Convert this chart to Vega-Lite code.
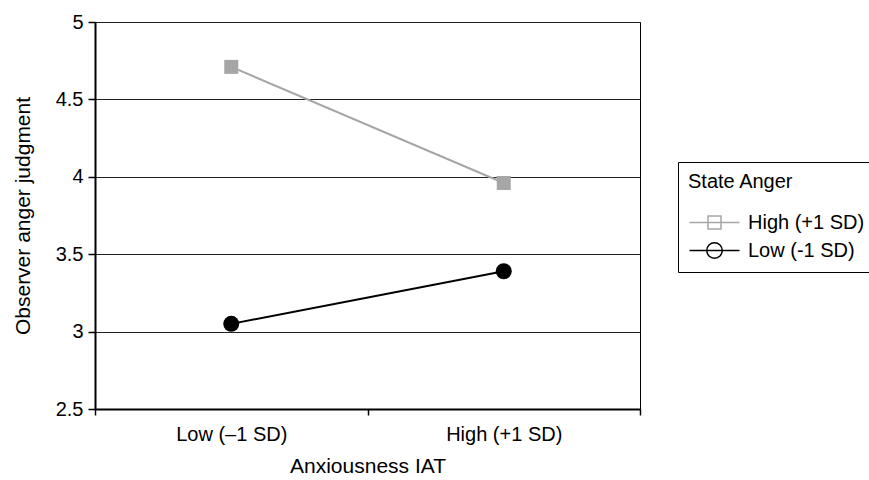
{
  "$schema": "https://vega.github.io/schema/vega-lite/v6.json",
  "width": 545,
  "height": 387,
  "autosize": "none",
  "padding": {"left": 95, "top": 22, "right": 229, "bottom": 71},
  "config": {
    "font": "Liberation Sans",
    "view": {"stroke": "#000", "strokeWidth": 1}
  },
  "data": {
    "values": [
      {"series": "High (+1 SD)", "iat": "Low (–1 SD)", "value": 4.71},
      {"series": "High (+1 SD)", "iat": "High (+1 SD)", "value": 3.96},
      {"series": "Low (-1 SD)", "iat": "Low (–1 SD)", "value": 3.05},
      {"series": "Low (-1 SD)", "iat": "High (+1 SD)", "value": 3.39}
    ]
  },
  "encoding": {
    "x": {
      "field": "iat",
      "type": "nominal",
      "sort": ["Low (–1 SD)", "High (+1 SD)"],
      "scale": {"type": "band", "paddingInner": 0, "paddingOuter": 0},
      "axis": {
        "title": "Anxiousness IAT",
        "labelAngle": 0,
        "grid": false,
        "domainColor": "#000",
        "domainWidth": 2,
        "tickBand": "extent",
        "tickColor": "#000",
        "tickWidth": 1.5,
        "tickSize": 6,
        "labelFontSize": 20,
        "labelColor": "#000",
        "labelPadding": 9,
        "titleFontSize": 21,
        "titleFontWeight": "normal",
        "titleColor": "#000",
        "titlePadding": 11
      }
    },
    "y": {
      "field": "value",
      "type": "quantitative",
      "scale": {"domain": [2.5, 5], "nice": false, "zero": false},
      "axis": {
        "title": "Observer anger judgment",
        "values": [2.5, 3, 3.5, 4, 4.5, 5],
        "format": "~g",
        "grid": true,
        "gridColor": "#222",
        "gridWidth": 1,
        "domainColor": "#000",
        "domainWidth": 2,
        "tickColor": "#000",
        "tickWidth": 1.5,
        "tickSize": 7,
        "labelFontSize": 20,
        "labelColor": "#000",
        "labelPadding": 5,
        "titleFontSize": 21,
        "titleFontWeight": "normal",
        "titleColor": "#000",
        "titlePadding": 22
      }
    }
  },
  "layer": [
    {
      "mark": {"type": "point", "filled": true, "opacity": 0, "size": 625},
      "encoding": {
        "fill": {
          "field": "series",
          "type": "nominal",
          "scale": {"domain": ["High (+1 SD)", "Low (-1 SD)"], "range": ["#a6a6a6", "#000000"]},
          "legend": {
            "title": "State Anger",
            "orient": "none",
            "legendX": 583,
            "legendY": 140,
            "strokeColor": "#000",
            "padding": 10,
            "titleFontSize": 20,
            "titleFontWeight": "normal",
            "titleColor": "#000",
            "titlePadding": 17,
            "labelFontSize": 20,
            "labelColor": "#000",
            "labelOffset": 20,
            "symbolOffset": 13,
            "rowPadding": 4,
            "symbolSize": 625,
            "symbolStrokeWidth": 1.5,
            "symbolOpacity": 1
          }
        },
        "stroke": {
          "field": "series",
          "type": "nominal",
          "scale": {"domain": ["High (+1 SD)", "Low (-1 SD)"], "range": ["#a6a6a6", "#000000"]},
          "legend": {"title": "State Anger"}
        },
        "shape": {
          "field": "series",
          "type": "nominal",
          "scale": {
            "domain": ["High (+1 SD)", "Low (-1 SD)"],
            "range": [
              "M-2,0H2M-0.52,-0.52H0.52V0.52H-0.52Z",
              "M-2,0H2M0.62,0A0.62,0.62 0 1,1 -0.62,0A0.62,0.62 0 1,1 0.62,0Z"
            ]
          },
          "legend": {"title": "State Anger"}
        }
      }
    },
    {
      "transform": [{"filter": "datum.series === 'High (+1 SD)'"}],
      "mark": {"type": "line", "strokeWidth": 2, "color": "#a6a6a6"},
      "encoding": {}
    },
    {
      "transform": [{"filter": "datum.series === 'Low (-1 SD)'"}],
      "mark": {"type": "line", "strokeWidth": 2, "color": "#000000"},
      "encoding": {}
    },
    {
      "transform": [{"filter": "datum.series === 'High (+1 SD)'"}],
      "mark": {"type": "point", "filled": true, "opacity": 1, "shape": "square", "size": 196, "color": "#a6a6a6"},
      "encoding": {}
    },
    {
      "transform": [{"filter": "datum.series === 'Low (-1 SD)'"}],
      "mark": {"type": "point", "filled": true, "opacity": 1, "shape": "circle", "size": 256, "color": "#000000"},
      "encoding": {}
    }
  ]
}
